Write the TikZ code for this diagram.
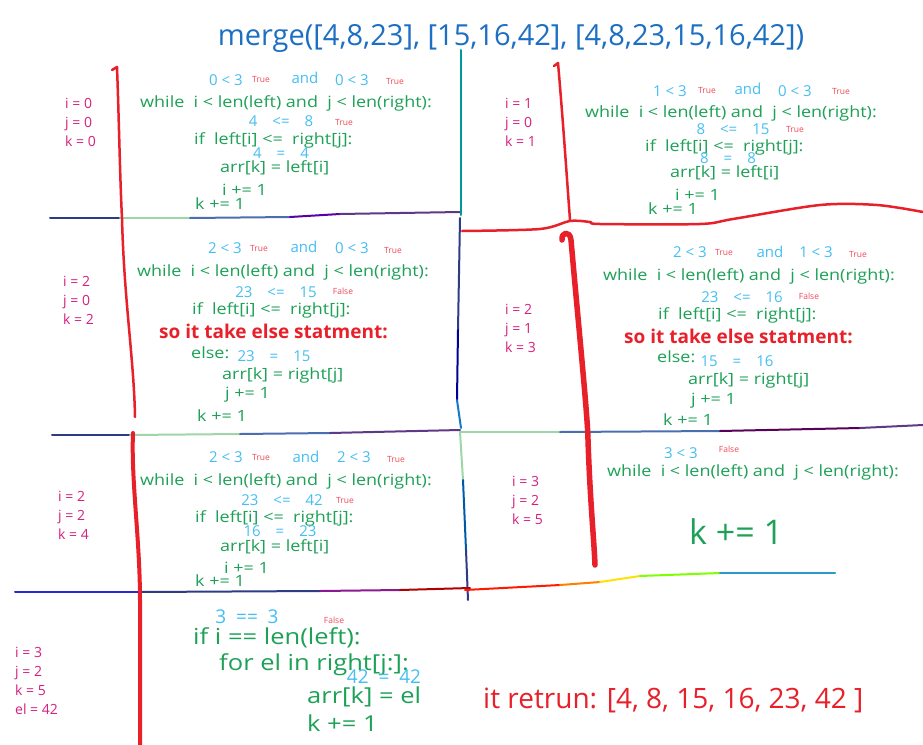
\documentclass[tikz,border=0pt]{standalone}
\usepackage{fontspec}
\setmainfont{Open Sans}
\newfontfamily\hand{Open Sans}[FakeStretch=1.16]
\usetikzlibrary{positioning}
\definecolor{codegreen}{HTML}{1DA157}
\definecolor{numblue}{HTML}{45BFF2}
\definecolor{varpink}{HTML}{D6207E}
\definecolor{penred}{HTML}{E8202A}
\definecolor{tfred}{HTML}{F04858}
\definecolor{titleblue}{HTML}{1C6FC2}
\definecolor{navy}{HTML}{2E3C86}
\definecolor{mint}{HTML}{9FD6A8}
\definecolor{slate}{HTML}{4A6FB0}
\definecolor{plum}{HTML}{5E3A86}

\begin{document}
\begin{tikzpicture}[x=1pt,y=-1pt,line cap=round,line join=round]
\tikzstyle{c}=[text=codegreen,anchor=west,inner sep=0pt,font=\hand\fontsize{15.5}{17}\selectfont]
\tikzstyle{n}=[text=numblue,inner sep=0pt,font=\fontsize{15}{17}\selectfont]
\tikzstyle{tf}=[text=tfred,inner sep=0pt,font=\fontsize{8.5}{9}\selectfont]
\tikzstyle{v}=[text=varpink,anchor=west,align=left,inner sep=0pt,font=\fontsize{14}{19}\selectfont]
\tikzstyle{note}=[text=penred,anchor=west,inner sep=0pt,font=\fontsize{19}{21}\selectfont\bfseries]
\tikzstyle{pen}=[penred,line width=2.5pt]
\useasboundingbox[fill=white] (0,0) rectangle (923,744);

% crayon lines
\foreach \xa/\ya/\xb/\yb/\col in {
  50/218/120/218/navy, 120/218/190/218/mint, 190/218/290/217/slate,
  290/217/340/214/{violet!70!blue}, 340/214/460/212/plum,
  461/50/461/215/{teal!80!cyan}, 460/218/458/330/navy, 458/330/457/400/{blue!60!black},
  457/400/461/428/{cyan!60!blue}, 460/432/463/480/mint, 463/480/466/550/{teal!70!blue},
  466/550/468/600/navy,
  52/435/130/435/navy, 130/435/240/434/mint, 240/434/330/433/slate,
  330/433/460/430/plum,
  460/432/560/432/mint, 560/432/720/431/slate, 720/431/860/428/{violet!70!black},
  860/428/923/425/plum,
  15/592/140/592/{blue!70!gray}, 140/592/320/591/navy, 320/591/400/590/{magenta!50!blue},
  400/590/470/588/{red!70!black},
  465/590/560/585/{red!80!orange}, 560/585/600/582/orange, 600/582/640/576/{yellow!85!orange},
  640/576/720/573/{green!50!yellow}, 720/573/835/573/{cyan!60!teal}}
  \draw[\col,line width=2pt] (\xa,\ya) -- (\xb,\yb);

% red pen strokes
\draw[pen] (112,70) -- (117,67) .. controls (119,120) and (120,180) .. (122,218)
  .. controls (124,300) and (134,360) .. (135,417);
\draw[pen,line width=4pt] (133,433) .. controls (131,480) and (140,540) .. (140,600) -- (140,750);
\draw[pen] (554,66) -- (558,63) .. controls (563,120) and (567,180) .. (570,220);
\draw[pen] plot[smooth,tension=0.5] coordinates {(462,231) (540,229) (570,221) (590,222)
  (600,224) (700,224) (733,219) (820,205) (877,205) (923,212)};
\draw[pen,line width=5.5pt] (562,240) .. controls (561,232) and (570,230) .. (571,240)
  .. controls (578,320) and (588,420) .. (588,440) .. controls (590,500) and (594,540) .. (595,565);

\node[text=titleblue,font=\fontsize{29}{31}\selectfont,inner sep=0pt] (title) at (511,38)
  {merge([4,8,23], [15,16,42], [4,8,23,15,16,42])};

% first loop: i=0, j=0
\node[v] (var1) at (65,122) {i = 0\\j = 0\\k = 0};
\node[n] (c1a) at (226,80) {0 < 3};
\node[tf] (t1a) at (261,80) {True};
\node[n] (and1) at (305,78) {and};
\node[n] (c1b) at (352,80) {0 < 3};
\node[tf] (t1b) at (395,82) {True};
\node[c] (while1) at (140,103) {while\ \ i < len(left) and\ \ j < len(right):};
\node[n] (cmp1) at (281,121) {4\quad <=\quad 8};
\node[tf] (t1c) at (344,123) {True};
\node[c] (if1) at (194,140) {if\ \ left[i] <=\ \ right[j]:};
\node[n] (eq1) at (281,153) {4\quad =\quad 4};
\node[c] (arr1) at (220,168) {arr[k] = left[i]};
\node[c] (inc1) at (222,190) {i += 1};
\node[c] (k1) at (195,204) {k += 1};

% second loop: i=1, j=0
\node[v] (var2) at (505,122) {i = 1\\j = 0\\k = 1};
\node[n] (c2a) at (670,91) {1 < 3};
\node[tf] (t2a) at (707,91) {True};
\node[n] (and2) at (748,89) {and};
\node[n] (c2b) at (795,91) {0 < 3};
\node[tf] (t2b) at (841,92) {True};
\node[c] (while2) at (585,113) {while\ \ i < len(left) and\ \ j < len(right):};
\node[n] (cmp2) at (733,129) {8\quad <=\quad 15};
\node[tf] (t2c) at (795,130) {True};
\node[c] (if2) at (645,147) {if\ \ left[i] <=\ \ right[j]:};
\node[n] (eq2) at (728,158) {8\quad =\quad 8};
\node[c] (arr2) at (670,173) {arr[k] = left[i]};
\node[c] (inc2) at (675,195) {i += 1};
\node[c] (k2) at (648,209) {k += 1};

% third loop: i=2, j=0
\node[v] (var3) at (63,300) {i = 2\\j = 0\\k = 2};
\node[n] (c3a) at (225,248) {2 < 3};
\node[tf] (t3a) at (259,249) {True};
\node[n] (and3) at (304,247) {and};
\node[n] (c3b) at (352,248) {0 < 3};
\node[tf] (t3b) at (393,251) {True};
\node[c] (while3) at (137,272) {while\ \ i < len(left) and\ \ j < len(right):};
\node[n] (cmp3) at (276,292) {23\quad <=\quad 15};
\node[tf] (t3c) at (343,291) {False};
\node[c] (if3) at (192,310) {if\ \ left[i] <=\ \ right[j]:};
\node[note] (else3) at (159,331) {so it take else statment:};
\node[c] (kw3) at (191,353) {else:};
\node[n] (eq3) at (274,356) {23\quad =\quad 15};
\node[c] (arr3) at (222,375) {arr[k] = right[j]};
\node[c] (inc3) at (225,395) {j += 1};
\node[c] (k3) at (197,416) {k += 1};

% fourth loop: i=2, j=1
\node[v] (var4) at (505,328) {i = 2\\j = 1\\k = 3};
\node[n] (c4a) at (690,252) {2 < 3};
\node[tf] (t4a) at (724,253) {True};
\node[n] (and4) at (770,252) {and};
\node[n] (c4b) at (816,252) {1 < 3};
\node[tf] (t4b) at (858,255) {True};
\node[c] (while4) at (603,276) {while\ \ i < len(left) and\ \ j < len(right):};
\node[n] (cmp4) at (742,297) {23\quad <=\quad 16};
\node[tf] (t4c) at (809,296) {False};
\node[c] (if4) at (658,315) {if\ \ left[i] <=\ \ right[j]:};
\node[note] (else4) at (624,336) {so it take else statment:};
\node[c] (kw4) at (657,357) {else:};
\node[n] (eq4) at (737,361) {15\quad =\quad 16};
\node[c] (arr4) at (688,380) {arr[k] = right[j]};
\node[c] (inc4) at (691,401) {j += 1};
\node[c] (k4) at (663,420) {k += 1};

% fifth loop: i=2, j=2
\node[v] (var5) at (58,515) {i = 2\\j = 2\\k = 4};
\node[n] (c5a) at (226,457) {2 < 3};
\node[tf] (t5a) at (261,458) {True};
\node[n] (and5) at (306,457) {and};
\node[n] (c5b) at (354,457) {2 < 3};
\node[tf] (t5b) at (396,460) {True};
\node[c] (while5) at (140,481) {while\ \ i < len(left) and\ \ j < len(right):};
\node[n] (cmp5) at (282,500) {23\quad <=\quad 42};
\node[tf] (t5c) at (345,500) {True};
\node[c] (if5) at (195,518) {if\ \ left[i] <=\ \ right[j]:};
\node[n] (eq5) at (280,531) {16\quad =\quad 23};
\node[c] (arr5) at (220,547) {arr[k] = left[i]};
\node[c] (inc5) at (224,568) {i += 1};
\node[c] (k5) at (195,581) {k += 1};

% loop ends: i=3
\node[v] (var6) at (512,500) {i = 3\\j = 2\\k = 5};
\node[n] (c6a) at (681,453) {3 < 3};
\node[tf] (t6a) at (729,449) {False};
\node[c] (while6) at (607,472) {while\ \ i < len(left) and\ \ j < len(right):};
\node[c,font=\fontsize{34}{38}\selectfont] (k6) at (689,532) {k += 1};

% leftover of right
\node[v,font=\fontsize{14}{19}\selectfont] (var7) at (15,681) {i = 3\\j = 2\\k = 5\\el = 42};
\node[n,font=\fontsize{19}{21}\selectfont] (c7a) at (247,617) {3\ \ ==\ \ 3};
\node[tf] (t7a) at (334,620) {False};
\node[c,font=\hand\fontsize{22}{24}\selectfont] (if7) at (193,638) {if i == len(left):};
\node[c,font=\hand\fontsize{22}{24}\selectfont] (for7) at (219,665) {for el in right[j:]:};
\node[n,font=\fontsize{19}{21}\selectfont] (eq7) at (384,677) {42\ \ =\ \ 42};
\node[c,font=\hand\fontsize{22}{24}\selectfont] (arr7) at (307,697) {arr[k] = el};
\node[c,font=\hand\fontsize{22}{24}\selectfont] (k7) at (307,723) {k += 1};

\node[note,font=\fontsize{28}{30}\selectfont\mdseries] (ret) at (483,700) {it retrun: [4, 8, 15, 16, 23, 42 ]};
\end{tikzpicture}
\end{document}
